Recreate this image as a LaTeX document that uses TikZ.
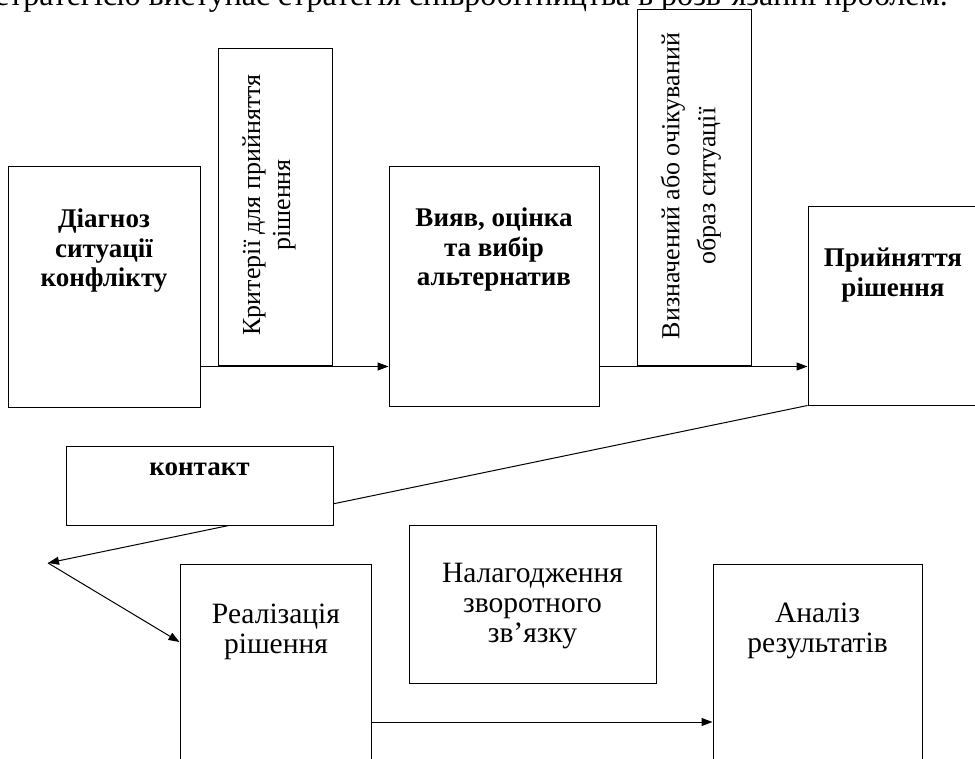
\documentclass[tikz,border=0pt]{standalone}
\usepackage{fontspec}
\setmainfont{Liberation Serif}
\usetikzlibrary{arrows.meta}
\tikzset{
  box/.style={draw=black, line width=1pt, fill=white, rectangle, inner sep=0pt},
  btxt/.style={font=\fontsize{27}{29.5}\selectfont\bfseries, align=center, inner sep=0pt, anchor=north},
  rtxt/.style={font=\fontsize{29.5}{30}\selectfont, align=center, inner sep=0pt, anchor=north},
  vtxt/.style={font=\fontsize{26}{30}\selectfont, align=center, inner sep=0pt, rotate=90, anchor=north},
  arr/.style={line width=1pt, -{Triangle[length=11pt,width=8pt]}},
}
\begin{document}
\begin{tikzpicture}[x=1pt,y=-1pt]
\useasboundingbox (0,0) rectangle (975,759);
\clip (0,0) rectangle (975,759);
\fill[white] (0,0) rectangle (975,759);

% cut-off line of running text
\node[anchor=base east, inner sep=0pt] (toptext) at (948,5.5)
  {\resizebox{953pt}{!}{стратегією виступає стратегія співробітництва в розв’язанні проблем.}};

% boxes
\node[box, minimum width=192pt, minimum height=240pt] (diag) at (104,287) {};
\node[box, minimum width=114pt, minimum height=317pt] (krit) at (275,207.5) {};
\node[box, minimum width=210pt, minimum height=239pt] (vyav) at (494,286.5) {};
\node[box, minimum width=114pt, minimum height=356pt] (vyz) at (694,188) {};
\node[box, minimum width=170pt, minimum height=198pt] (pryi) at (893,306) {};
\node[box, minimum width=191pt, minimum height=240pt] (real) at (275.5,684) {};
\node[box, minimum width=247pt, minimum height=158pt] (nal) at (532.5,604) {};
\node[box, minimum width=209pt, minimum height=240pt] (anal) at (817.5,684) {};

% connectors
\coordinate (tip) at (48,563);
\draw[arr] (diag.east |- krit.south) -- (vyav.west |- krit.south);
\draw[arr] (vyav.east |- vyz.south) -- (pryi.west |- vyz.south);
\draw[arr] (pryi.south west) -- (tip);
\draw[arr] (tip) -- ([yshift=42pt]real.west);
\draw[arr] ([yshift=-38pt]real.east) -- ([yshift=-38pt]anal.west);

% box drawn over the slanted line
\node[box, minimum width=267pt, minimum height=79pt] (kont) at (199.5,485.5) {};

% texts
\node[btxt] (diagt) at (104,207) {\strut Діагноз\\ситуації\\конфлікту};
\node[btxt] (vyavt) at (494,206) {\strut Вияв, оцінка\\та вибір\\альтернатив};
\node[btxt] (pryit) at (893,246) {\strut Прийняття\\рішення};
\node[btxt] (kontt) at (199.5,455) {\strut контакт};
\node[rtxt] (realt) at (276,602) {\strut Реалізація\\рішення};
\node[rtxt] (nalt) at (532.5,561) {\strut Налагодження\\зворотного\\зв’язку};
\node[rtxt] (analt) at (817.5,601) {\strut Аналіз\\результатів};
\node[vtxt] (kritt) at (239,205) {\strut Критерії для прийняття\\рішення};
\node[vtxt, font=\fontsize{26}{36}\selectfont] (vyzt) at (654,186) {\strut Визначений або очікуваний\\образ ситуації};
\end{tikzpicture}
\end{document}
